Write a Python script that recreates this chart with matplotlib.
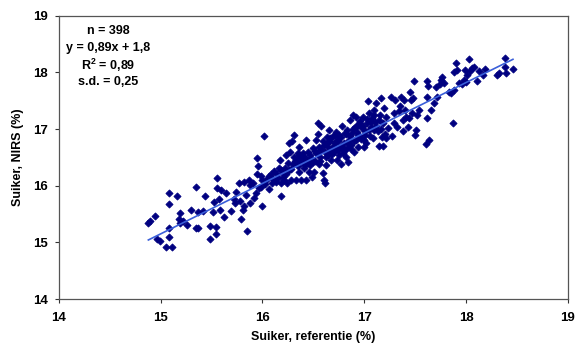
import numpy as np
import matplotlib.pyplot as plt

plt.rcParams['font.family'] = ['Liberation Sans', 'DejaVu Sans']
plt.rcParams['font.weight'] = 'bold'

# referentie (x) en NIRS (y) suikergehalte in %
suiker_ref = [
    14.88, 14.90, 14.95, 14.96, 14.99, 15.05, 15.11, 15.08, 15.08, 15.08,
    15.08, 15.16, 15.18, 15.19, 15.19, 15.22, 15.26, 15.30, 15.35, 15.35,
    15.37, 15.37, 15.42, 15.44, 15.49, 15.49, 15.51, 15.52, 15.54, 15.54,
    15.55, 15.55, 15.57, 15.58, 15.59, 15.62, 15.64, 15.69, 15.72, 15.73,
    15.74, 15.77, 15.78, 15.79, 15.81, 15.82, 15.82, 15.84, 15.85, 15.87,
    15.88, 15.88, 15.91, 15.92, 15.94, 15.95, 15.95, 15.96, 15.97, 15.99,
    15.99, 16.00, 16.00, 16.02, 16.03, 16.05, 16.06, 16.08, 16.09, 16.11,
    16.13, 16.15, 16.16, 16.17, 16.18, 16.18, 16.20, 16.21, 16.22, 16.23,
    16.24, 16.26, 16.26, 16.27, 16.28, 16.29, 16.30, 16.31, 16.31, 16.33,
    16.34, 16.35, 16.35, 16.36, 16.36, 16.38, 16.38, 16.39, 16.40, 16.41,
    16.42, 16.43, 16.43, 16.44, 16.45, 16.46, 16.47, 16.48, 16.49, 16.50,
    16.51, 16.52, 16.53, 16.53, 16.55, 16.55, 16.56, 16.56, 16.57, 16.58,
    16.59, 16.59, 16.60, 16.61, 16.61, 16.62, 16.63, 16.64, 16.64, 16.65,
    16.66, 16.67, 16.68, 16.69, 16.70, 16.71, 16.72, 16.73, 16.73, 16.74,
    16.75, 16.76, 16.77, 16.78, 16.79, 16.80, 16.81, 16.82, 16.83, 16.83,
    16.84, 16.85, 16.86, 16.87, 16.88, 16.89, 16.90, 16.91, 16.92, 16.92,
    16.93, 16.94, 16.95, 16.96, 16.98, 16.99, 17.00, 17.00, 17.01, 17.02,
    17.03, 17.04, 17.05, 17.06, 17.07, 17.08, 17.09, 17.10, 17.10, 17.11,
    17.12, 17.13, 17.14, 17.15, 17.16, 17.17, 17.18, 17.18, 17.19, 17.20,
    17.21, 17.21, 17.23, 17.26, 17.27, 17.29, 17.29, 17.30, 17.32, 17.34,
    17.35, 17.36, 17.38, 17.38, 17.39, 17.40, 17.41, 17.43, 17.44, 17.45,
    17.46, 17.47, 17.48, 17.49, 17.50, 17.51, 17.52, 17.54, 17.61, 17.62,
    17.62, 17.62, 17.63, 17.64, 17.66, 17.68, 17.70, 17.71, 17.74, 17.75,
    17.76, 17.78, 17.83, 17.85, 17.87, 17.88, 17.88, 17.90, 17.91, 17.93,
    17.96, 17.98, 17.99, 18.00, 18.01, 18.03, 18.04, 18.06, 18.08, 18.11,
    18.13, 18.17, 18.19, 18.30, 18.32, 18.38, 18.38, 18.39, 18.46,
    16.40, 16.42, 16.45, 16.47, 16.50, 16.52, 16.55, 16.57, 16.58, 16.60,
    16.62, 16.63, 16.65, 16.66, 16.68, 16.70, 16.71, 16.72, 16.74, 16.75,
    16.77, 16.78, 16.80, 16.82, 16.84, 16.86, 16.87, 16.89, 16.90, 16.93,
    16.94, 16.96, 16.97, 16.99, 17.01, 17.03, 17.05, 17.07, 17.10, 17.12,
    17.14, 17.16, 16.34, 16.36, 16.32, 16.28, 16.25, 16.23, 16.20, 16.18,
    16.14, 16.10, 16.06, 16.03,
]
suiker_nirs = [
    15.34, 15.38, 15.46, 15.06, 15.03, 14.92, 14.92, 15.09, 15.26, 15.67,
    15.88, 15.81, 15.42, 15.51, 15.34, 15.38, 15.31, 15.58, 15.97, 15.26,
    15.26, 15.53, 15.56, 15.81, 15.06, 15.29, 15.54, 15.72, 15.28, 15.15,
    16.14, 15.96, 15.76, 15.57, 15.93, 15.45, 15.88, 15.56, 15.76, 15.69,
    15.89, 16.05, 15.73, 15.41, 15.57, 15.64, 16.07, 15.84, 15.21, 16.10,
    15.70, 16.01, 16.04, 15.79, 15.88, 16.48, 16.21, 16.35, 15.96, 15.98,
    16.17, 15.64, 16.10, 16.88, 16.03, 16.13, 15.95, 16.20, 16.05, 16.26,
    16.07, 16.13, 16.31, 16.46, 15.82, 16.05, 16.22, 16.10, 16.32, 16.54,
    16.05, 16.76, 16.28, 16.60, 16.10, 16.78, 16.39, 16.51, 16.89, 16.10,
    16.43, 16.57, 16.34, 16.69, 16.25, 16.48, 16.10, 16.42, 16.58, 16.31,
    16.48, 16.81, 16.10, 16.45, 16.60, 16.25, 16.36, 16.48, 16.16, 16.66,
    16.25, 16.44, 16.57, 16.81, 17.10, 16.92, 16.39, 16.69, 16.51, 17.05,
    16.78, 16.22, 16.10, 16.05, 16.60, 16.36, 16.86, 16.69, 16.54, 16.98,
    16.78, 16.45, 16.66, 16.88, 16.60, 16.75, 16.95, 16.46, 16.81, 16.63,
    16.90, 16.69, 16.39, 17.05, 16.57, 16.75, 16.93, 16.51, 16.66, 16.99,
    16.42, 16.81, 17.16, 16.72, 16.93, 17.25, 16.60, 17.04, 16.81, 17.22,
    16.94, 16.69, 17.10, 16.86, 17.01, 17.22, 16.69, 16.81, 16.96, 16.75,
    17.10, 17.50, 17.28, 16.88, 17.04, 17.19, 16.84, 17.34, 16.98, 17.13,
    17.45, 16.96, 16.70, 17.25, 17.54, 16.86, 16.70, 17.10, 17.37, 16.91,
    16.85, 17.22, 17.01, 17.57, 16.88, 17.28, 17.11, 17.51, 17.04, 17.31,
    17.41, 17.57, 17.16, 16.96, 17.51, 17.34, 17.22, 17.04, 17.19, 17.66,
    17.51, 17.28, 17.54, 17.85, 16.89, 16.98, 17.25, 17.34, 16.73, 17.57,
    17.19, 17.84, 17.76, 16.81, 17.34, 17.45, 17.74, 17.57, 17.79, 17.86,
    17.92, 17.81, 17.66, 17.64, 17.11, 18.01, 17.68, 18.16, 18.04, 17.81,
    17.79, 17.86, 18.04, 17.83, 17.95, 18.23, 18.02, 18.07, 18.10, 17.84,
    18.02, 17.95, 18.05, 17.95, 17.98, 18.26, 18.10, 17.98, 18.06,
    16.52, 16.36, 16.40, 16.55, 16.42, 16.62, 16.58, 16.44, 16.64, 16.72,
    16.50, 16.76, 16.62, 16.84, 16.56, 16.70, 16.90, 16.64, 16.78, 16.55,
    16.86, 16.68, 16.62, 16.92, 16.76, 16.88, 16.64, 17.00, 16.78, 17.06,
    16.90, 17.14, 16.82, 17.05, 16.90, 17.18, 16.99, 17.12, 17.24, 17.05,
    17.16, 17.00, 16.38, 16.55, 16.44, 16.30, 16.40, 16.20, 16.15, 16.28,
    16.20, 16.12, 16.18, 16.08,
]

# regressielijn uit de vermelde vergelijking
helling = 0.89
intercept = 1.8

fig = plt.figure(figsize=(5.76, 3.47), dpi=100)
ax = fig.add_axes([0.102, 0.138, 0.884, 0.817])

ax.scatter(suiker_ref, suiker_nirs, marker='D', s=13, color='#000080',
           linewidths=0.6, edgecolors='#000080', zorder=2)

x_lijn = np.array([min(suiker_ref), max(suiker_ref)])
ax.plot(x_lijn, helling * x_lijn + intercept, color='#3a5fd9', lw=1.2, zorder=3)

ax.set_xlim(14, 19)
ax.set_ylim(14, 19)
ax.set_xticks([14, 15, 16, 17, 18, 19])
ax.set_yticks([14, 15, 16, 17, 18, 19])
ax.tick_params(direction='out', length=3, width=0.8, colors='#333333',
               labelcolor='black', labelsize=9.5)
ax.tick_params(axis='x', pad=6)
ax.tick_params(axis='y', pad=5)
for lab in ax.get_xticklabels() + ax.get_yticklabels():
    lab.set_fontweight('bold')
for sp in ax.spines.values():
    sp.set_color('#555555')
    sp.set_linewidth(0.9)

ax.set_xlabel('Suiker, referentie (%)', fontsize=9, fontweight='bold', labelpad=5)
ax.set_ylabel('Suiker, NIRS (%)', fontsize=9, fontweight='bold', labelpad=6)

regels = ['n = 398', 'y = 0,89x + 1,8', 'R$^\\mathregular{2}$ = 0,89', 's.d. = 0,25']
posities = [0.946, 0.886, 0.824, 0.766]
for regel, ypos in zip(regels, posities):
    ax.text(0.097, ypos, regel, transform=ax.transAxes, ha='center', va='center',
            fontsize=9, fontweight='bold')

fig.savefig('out.png', dpi=100)
